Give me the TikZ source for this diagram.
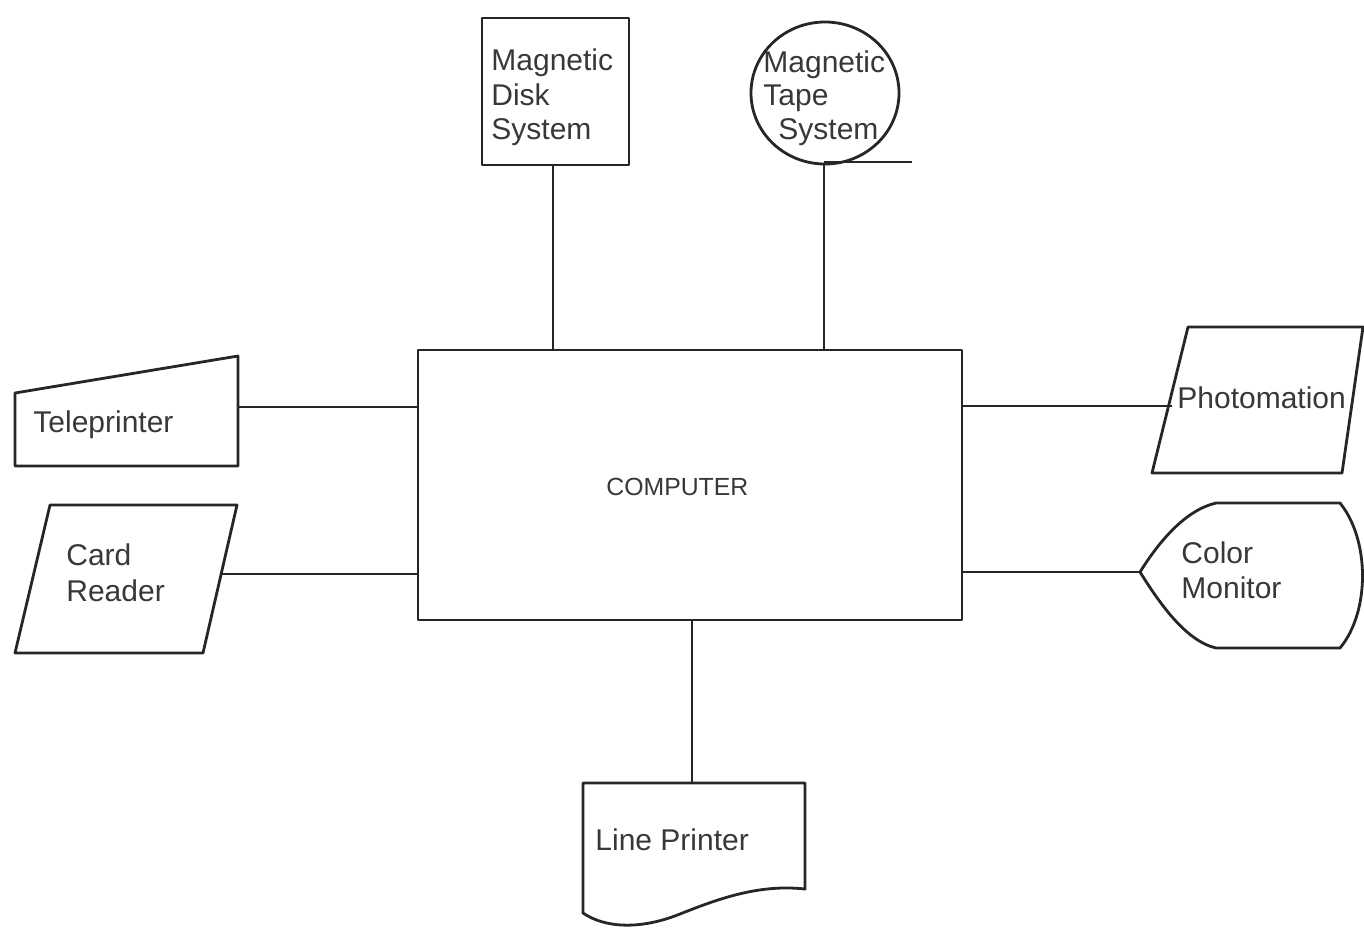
\documentclass[tikz,border=0pt]{standalone}
\usepackage{fontspec}
\setmainfont{Liberation Sans}
\begin{document}
\begin{tikzpicture}[x=0.5pt,y=-0.5pt,
  shp/.style={draw=black!85,line width=1.4pt,line join=round},
  conn/.style={draw=black!85,line width=1.4pt},
  lbl/.style={inner sep=0pt,anchor=base west,text=black!78,font=\fontsize{15}{17.5}\selectfont},
  clbl/.style={inner sep=0pt,anchor=base west,text=black!78,font=\fontsize{12.4}{14}\selectfont}]
\useasboundingbox (0,0) rectangle (1364,928);

% Computer
\draw[shp] (418,350) rectangle (962,620);
\node[clbl] (comp) at (606,495) {COMPUTER};
\coordinate (compT1) at (553,350);
\coordinate (compT2) at (824,350);
\coordinate (compL1) at (418,407);
\coordinate (compL2) at (418,574);
\coordinate (compR1) at (962,406);
\coordinate (compR2) at (962,572);
\coordinate (compB) at (692,620);

% Magnetic Disk System
\draw[shp] (482,18) rectangle (629,165);
\coordinate (diskB) at (553,165);
\node[lbl] (disk1) at (491,70) {Magnetic};
\node[lbl] (disk2) at (491,105) {Disk};
\node[lbl] (disk3) at (491,139) {System};

% Magnetic Tape System
\draw[shp] (825,93) circle [x radius=74, y radius=71];
\coordinate (tapeB) at (824,164);
\coordinate (tapeE) at (912,162);
\node[lbl] (tape1) at (763,72) {Magnetic};
\node[lbl] (tape2) at (763,105) {Tape};
\node[lbl] (tape3) at (778,139) {System};

% Teleprinter
\draw[shp] (15,393) -- (238,356) -- (238,466) -- (15,466) -- cycle;
\coordinate (teleR) at (238,407);
\node[lbl] (tele) at (33,432) {Teleprinter};

% Card Reader
\draw[shp] (50,505) -- (237,505) -- (203,653) -- (15,653) -- cycle;
\coordinate (cardR) at (221,574);
\node[lbl] (card1) at (66,565) {Card};
\node[lbl] (card2) at (66,601) {Reader};

% Photomation
\draw[shp] (1188,327) -- (1363,327) -- (1342,473) -- (1152,473) -- cycle;
\coordinate (photoL) at (1172,406);
\node[lbl] (photo) at (1177,408) {Photomation};

% Color Monitor
\draw[shp] (1140,572) .. controls (1160,540) and (1186,510) .. (1216,503)
  -- (1340,503) .. controls (1370,540) and (1370,612) .. (1340,648)
  -- (1216,648) .. controls (1186,641) and (1160,604) .. (1140,572);
\coordinate (monL) at (1140,572);
\node[lbl] (mon1) at (1181,563) {Color};
\node[lbl] (mon2) at (1181,598) {Monitor};

% Line Printer
\draw[shp] (583,783) -- (805,783) -- (805,889)
  .. controls (760,884) and (720,898) .. (680,914)
  .. controls (640,930) and (605,928) .. (583,913) -- cycle;
\coordinate (lpT) at (692,783);
\node[lbl] (lp) at (595,850) {Line Printer};

% Connectors
\draw[conn] (diskB) -- (compT1);
\draw[conn] (tapeB) -- (compT2);
\draw[conn] (tapeB |- tapeE) -- (tapeE);
\draw[conn] (teleR) -- (compL1);
\draw[conn] (cardR) -- (compL2);
\draw[conn] (compR1) -- (photoL);
\draw[conn] (compR2) -- (monL);
\draw[conn] (compB) -- (lpT);
\end{tikzpicture}
\end{document}
